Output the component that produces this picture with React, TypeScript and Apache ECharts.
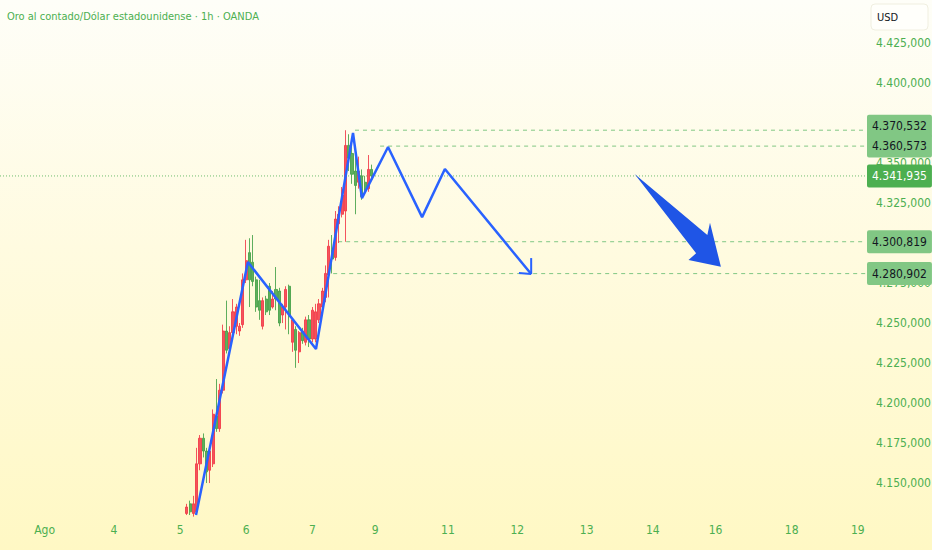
import React, { useEffect, useRef } from "react";
import * as echarts from "echarts";

// ---------- data ----------
const SLOT_COUNT = 262; // hourly-ish slots across the plot
const xTickLabels: [number, string][] = [
  [13, "Ago"], [34, "4"], [54, "5"], [74, "6"], [94, "7"], [113, "9"], [135, "11"],
  [156, "12"], [177, "13"], [197, "14"], [216, "16"], [239, "18"], [259, "19"],
];
// 4.375 and 4.300 are fully hidden behind the price boxes in the reference
const yTickValues = [4150, 4175, 4200, 4225, 4250, 4275, 4325, 4350, 4400, 4425];

const candleStart = 56;
// [open, close, low, high]
const candles: number[][] = [
  [4131, 4135, 4130, 4137], [4137, 4132, 4130, 4139], [4131, 4137, 4129, 4142],
  [4132, 4162, 4130, 4172], [4162, 4178, 4158, 4180], [4178, 4170, 4166, 4181],
  [4170, 4157, 4150, 4172], [4158, 4170, 4150, 4172], [4162, 4193, 4160, 4196],
  [4192, 4184, 4182, 4215], [4184, 4208, 4182, 4212], [4208, 4245, 4206, 4249],
  [4245, 4233, 4231, 4264], [4234, 4244, 4232, 4248], [4244, 4257, 4240, 4265],
  [4248, 4260, 4243, 4262], [4245, 4248, 4242, 4250], [4249, 4277, 4247, 4281],
  [4277, 4289, 4275, 4302], [4294, 4277, 4260, 4303], [4288, 4276, 4273, 4305],
  [4277, 4260, 4257, 4279], [4264, 4258, 4252, 4277], [4248, 4264, 4246, 4266],
  [4265, 4257, 4255, 4267], [4273, 4258, 4255, 4275], [4260, 4265, 4259, 4270],
  [4271, 4265, 4258, 4285], [4270, 4250, 4248, 4272], [4255, 4260, 4250, 4262],
  [4260, 4271, 4246, 4273], [4273, 4254, 4243, 4274], [4238, 4252, 4232, 4253],
  [4246, 4233, 4222, 4248], [4232, 4244, 4225, 4245], [4245, 4239, 4237, 4247],
  [4238, 4252, 4236, 4254], [4252, 4240, 4235, 4255], [4240, 4258, 4238, 4260],
  [4240, 4257, 4238, 4262], [4252, 4262, 4250, 4265], [4260, 4270, 4258, 4272],
  [4266, 4281, 4263, 4286], [4280, 4298, 4266, 4302], [4296, 4290, 4281, 4305],
  [4291, 4315, 4289, 4320], [4312, 4318, 4300, 4323], [4318, 4330, 4316, 4335],
  [4320, 4361, 4300.8, 4370.5], [4361, 4353, 4345, 4368], [4356, 4343, 4337, 4362],
  [4345, 4336, 4318, 4355], [4338, 4345, 4334, 4354], [4342, 4329, 4327, 4346],
  [4338, 4333, 4330, 4342], [4334, 4346, 4332, 4355], [4346, 4341.935, 4339, 4349],
];

// blue zigzag projection [slot, price]
const zigzag: number[][] = [
  [58.8, 4130], [74.5, 4288.1], [95.1, 4233.8], [106.3, 4368.75], [109, 4328.1],
  [116.9, 4360], [127.2, 4316.2], [134.1, 4346.3], [160.2, 4280.6],
];
const zigzagHeadA: number[][] = [[160.2, 4290.6], [160.2, 4280.6]];
const zigzagHeadB: number[][] = [[156.5, 4281.2], [160.2, 4280.6]];

// big arrow polygon [slot, price]
const bigArrow: number[][] = [
  [191.5, 4343.1], [213.5, 4305], [214.3, 4312.7], [217.6, 4285.2], [207.8, 4289.4], [210.1, 4293.6],
];

// horizontal levels
const levelValues = [4370.532, 4360.573, 4300.819, 4280.902];
const levelStarts = [106.9, 114.5, 101.8, 100.3];
const lastPrice = 4341.935;

const titleText = "Oro al contado/Dólar estadounidense · 1h · OANDA";
const currencyText = "USD";

// ---------- helpers ----------
const FONT = '"Liberation Sans Narrow", "DejaVu Sans Condensed", Roboto, sans-serif';
const GREEN = "#4caf50";
const LIGHT_GREEN = "#81c784";

function fmtPrice(v: number): string {
  const s = v.toFixed(3);
  const [i, d] = s.split(".");
  return i.replace(/\B(?=(\d{3})+(?!\d))/g, ".") + "," + d;
}

export default function App() {
  const ref = useRef<HTMLDivElement>(null);

  useEffect(() => {
    if (!ref.current) return;
    const chart = echarts.init(ref.current, null, { renderer: "svg" });
    const labelMap = new Map<number, string>(xTickLabels);
    const categories = Array.from({ length: SLOT_COUNT }, (_, i) => labelMap.get(i) ?? "");

    const levelSeries = levelValues.map((v, k) => ({
      type: "line",
      xAxisIndex: 1,
      yAxisIndex: 0,
      data: [[levelStarts[k], v], [SLOT_COUNT - 0.5, v]],
      symbol: "none",
      silent: true,
      z: 1,
      lineStyle: { color: LIGHT_GREEN, width: 1, type: [4, 4] },
      endLabel: {
        show: true,
        formatter: () => fmtPrice(v),
        backgroundColor: LIGHT_GREEN,
        color: "#131722",
        padding: [6, 5, 5, 5],
        borderRadius: 2,
        distance: 1,
        align: "left",
        offset: k === 0 ? [0, -4] : [0, 0],
        fontSize: 12,
        fontFamily: FONT,
      },
    }));

    const option: any = {
      animation: false,
      backgroundColor: "transparent",
      title: {
        text: titleText,
        left: 2,
        top: 6,
        textStyle: { color: GREEN, fontSize: 11, fontWeight: "normal", fontFamily: FONT },
      },
      grid: { left: 0, right: 66, top: 0, bottom: 34, containLabel: false, outerBoundsMode: "none" },
      xAxis: [
        {
          type: "category",
          data: categories,
          boundaryGap: true,
          axisLine: { show: false },
          axisTick: { show: false },
          splitLine: { show: false },
          axisLabel: {
            interval: 0,
            color: GREEN,
            fontSize: 12,
            margin: 8,
            fontFamily: FONT,
          },
        },
        {
          type: "value",
          min: -0.5,
          max: SLOT_COUNT - 0.5,
          show: false,
        },
      ],
      yAxis: {
        type: "value",
        position: "right",
        min: 4129.4,
        max: 4451.9,
        axisLine: { show: false },
        axisTick: { show: false },
        splitLine: { show: false },
        axisLabel: {
          customValues: yTickValues,
          color: GREEN,
          fontSize: 12,
          margin: 10,
          fontFamily: FONT,
          formatter: (v: number) => fmtPrice(v),
        },
      },
      graphic: [
        {
          type: "rect",
          shape: { x: 871, y: 4, width: 57, height: 26, r: 4 },
          style: { fill: "#fffffb", stroke: "#f0efe0", lineWidth: 1 },
          z: 10,
        },
        {
          type: "text",
          x: 877,
          y: 17,
          style: { text: currencyText, fill: "#131722", fontSize: 11, fontFamily: FONT, verticalAlign: "middle" },
          z: 11,
        },
      ],
      series: [
        ...levelSeries,
        {
          type: "line",
          xAxisIndex: 1,
          yAxisIndex: 0,
          data: [[-0.5, lastPrice], [SLOT_COUNT - 0.5, lastPrice]],
          symbol: "none",
          silent: true,
          z: 1,
          lineStyle: { color: GREEN, width: 1, type: [1, 2], opacity: 0.8 },
          endLabel: {
            show: true,
            formatter: () => fmtPrice(lastPrice),
            backgroundColor: GREEN,
            color: "#ffffff",
            padding: [6, 5, 5, 5],
            borderRadius: 2,
            distance: 1,
            align: "left",
            fontSize: 12,
            fontFamily: FONT,
          },
        },
        {
          type: "candlestick",
          xAxisIndex: 0,
          yAxisIndex: 0,
          data: candles.map((c, i) => [candleStart + i, c[0], c[1], c[2], c[3]]),
          encode: { x: 0, y: [1, 2, 3, 4] },
          barWidth: 2.6,
          z: 2,
          itemStyle: {
            color: "#f23645",
            color0: "#43a047",
            borderColor: "#f23645",
            borderColor0: "#43a047",
            borderWidth: 1,
            opacity: 0.85,
          },
        },
        {
          type: "line",
          xAxisIndex: 1,
          yAxisIndex: 0,
          data: zigzag,
          symbol: "none",
          silent: true,
          z: 3,
          lineStyle: { color: "#2962ff", width: 2.5 },
        },
        {
          type: "line",
          xAxisIndex: 1,
          yAxisIndex: 0,
          data: zigzagHeadA,
          symbol: "none",
          silent: true,
          z: 3,
          lineStyle: { color: "#2962ff", width: 2 },
        },
        {
          type: "line",
          xAxisIndex: 1,
          yAxisIndex: 0,
          data: zigzagHeadB,
          symbol: "none",
          silent: true,
          z: 3,
          lineStyle: { color: "#2962ff", width: 2 },
        },
        {
          type: "custom",
          xAxisIndex: 1,
          yAxisIndex: 0,
          data: [[bigArrow[0][0], bigArrow[0][1]]],
          silent: true,
          z: 3,
          clip: false,
          renderItem: (_p: any, api: any) => ({
            type: "polygon",
            shape: { points: bigArrow.map((pt) => api.coord(pt)) },
            style: { fill: "#1f55e6" },
          }),
        },
      ],
    };

    chart.setOption(option);
    return () => chart.dispose();
  }, []);

  return (
    <div
      ref={ref}
      style={{
        position: "fixed",
        left: 0,
        top: 0,
        width: 932,
        height: 550,
        background: "linear-gradient(180deg, #fefef8 0%, #fffbe0 45%, #fff8c4 100%)",
      }}
    />
  );
}
